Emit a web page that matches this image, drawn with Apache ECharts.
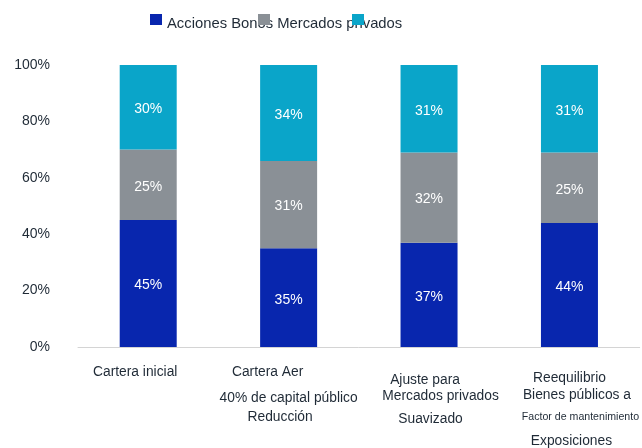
<!DOCTYPE html>
<html>
<head>
<meta charset="utf-8">
<script src="https://cdn.jsdelivr.net/npm/echarts@6/dist/echarts.min.js"></script>
<style>
  html, body { margin: 0; padding: 0; background: #fff; }
  #chart { width: 642px; height: 448px; }
</style>
</head>
<body>
<div id="chart"></div>
<script>
// categories (each line of the x label is its own entry)
const categories = ["Cartera inicial", "Cartera Aer", "Ajuste para", "Reequilibrio"];
const labelLines = [
  ["Cartera inicial"],
  ["Cartera Aer", "40% de capital público", "Reducción"],
  ["Ajuste para", "Mercados privados", "Suavizado"],
  ["Reequilibrio", "Bienes públicos a", "Factor de mantenimiento", "Exposiciones"]
];
const seriesNames = ["Acciones", "Bonos", "Mercados privados"];
const acciones = [45, 35, 37, 44];
const bonos = [25, 31, 32, 25];
const privados = [30, 34, 31, 31];
const yTicks = [0, 20, 40, 60, 80, 100];

// line layout of the x labels: [spacer, lineHeight..] and horizontal shift per line
const lineHeights = [
  [15, 16],
  [6.5, 33, 19, 19],
  [22, 18, 14, 32],
  [26, 6, 28, 16, 32]
];
const lineShift = [
  [-13],
  [-21, 0, -8.5],
  [-4, 11.5, 1.5],
  [0, 7.5, 11, 2]
];
const smallLines = { "Factor de mantenimiento": true };

const colors = ["#0826ae", "#8a9096", "#0aa5c9"];
const textColor = "#1f2a36";

const rich = {};
const labelText = [];
labelLines.forEach((lines, ci) => {
  const hs = lineHeights[ci];
  rich["sp" + ci] = { lineHeight: hs[0], fontSize: 2 };
  let parts = ["{sp" + ci + "| }"];
  lines.forEach((t, li) => {
    const key = "c" + ci + "l" + li;
    const s = lineShift[ci][li];
    rich[key] = {
      fontSize: smallLines[t] ? 10.6 : 13.8,
      color: textColor,
      lineHeight: hs[li + 1],
      padding: [0, s < 0 ? -2 * s : 0, 0, s > 0 ? 2 * s : 0]
    };
    parts.push("{" + key + "|" + t + "}");
  });
  labelText.push(parts.join("\n"));
});

const chart = echarts.init(document.getElementById("chart"));

const barLabel = { show: true, color: "#fff", fontSize: 14, formatter: "{c}%", offset: [0, 2] };

const iconLegend = (name, left) => ({
  data: [name],
  left: left, top: 9, z: 10,
  itemWidth: 12, itemHeight: 11,
  icon: "rect", selectedMode: false,
  formatter: () => ""
});

const option = {
  animation: false,
  textStyle: { fontFamily: "Liberation Sans, Arial, sans-serif" },
  legend: [
    {
      data: [seriesNames[0]],
      left: 145, top: 11,
      itemWidth: 12, itemHeight: 11, itemGap: 5,
      icon: "none", selectedMode: false,
      formatter: () => "Acciones Bonos Mercados privados",
      textStyle: { fontSize: 14.8, color: textColor }
    },
    iconLegend(seriesNames[0], 145),
    iconLegend(seriesNames[1], 253),
    iconLegend(seriesNames[2], 347)
  ],
  grid: { left: 78, right: 2, top: 65, bottom: 101 },
  xAxis: {
    type: "category",
    data: categories,
    axisLine: { lineStyle: { color: "#d4d4d4", width: 1 } },
    axisTick: { show: false },
    axisLabel: {
      interval: 0,
      margin: 2,
      hideOverlap: false,
      formatter: (v, i) => labelText[i],
      rich: rich
    }
  },
  yAxis: {
    type: "value",
    min: yTicks[0],
    max: yTicks[yTicks.length - 1],
    interval: 20,
    axisLine: { show: false },
    axisTick: { show: false },
    splitLine: { show: false },
    axisLabel: { formatter: "{value}%", color: textColor, fontSize: 14, margin: 28 }
  },
  series: [
    { name: seriesNames[0], type: "bar", stack: "t", barWidth: 57, data: acciones,
      itemStyle: { color: colors[0] }, label: barLabel },
    { name: seriesNames[1], type: "bar", stack: "t", barWidth: 57, data: bonos,
      itemStyle: { color: colors[1] }, label: barLabel },
    { name: seriesNames[2], type: "bar", stack: "t", barWidth: 57, data: privados,
      itemStyle: { color: colors[2] }, label: barLabel }
  ]
};

chart.setOption(option);
</script>
</body>
</html>
